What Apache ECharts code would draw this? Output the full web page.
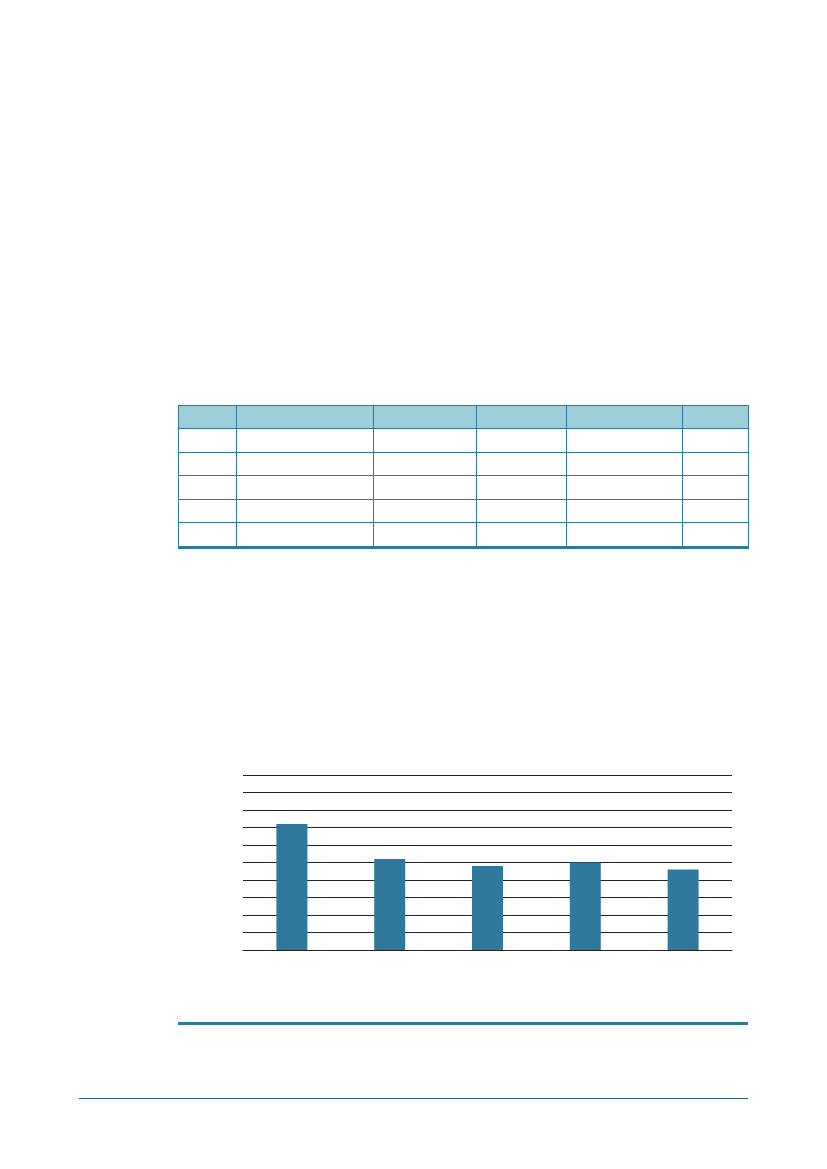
<!DOCTYPE html>
<html>
<head>
    <meta charset="UTF-8">
    <title>Chart</title>
    <script src="https://cdn.jsdelivr.net/npm/echarts@6.0.0/dist/echarts.min.js"></script>
    <style>
        html, body {
            margin: 0;
            padding: 0;
            background: #ffffff;
        }
        .page {
            position: relative;
            width: 827px;
            height: 1169px;
            overflow: hidden;
        }
        #dataTable {
            position: absolute;
            left: 178px;
            top: 405px;
            border-collapse: collapse;
            table-layout: fixed;
            border-bottom: 3px solid #2e7a9e;
        }
        #dataTable td, #dataTable th {
            border: 1.5px solid #2e7a9e;
            padding: 0;
        }
        #dataTable th {
            background-color: #9ecfd8;
            height: 22px;
        }
        #dataTable td {
            height: 22.6px;
        }
        .rule-thick {
            position: absolute;
            left: 178px;
            top: 1022px;
            width: 570px;
            height: 3px;
            background-color: #2e7a9e;
        }
        .rule-thin {
            position: absolute;
            left: 79px;
            top: 1098px;
            width: 669px;
            height: 1px;
            background-color: #2a5f7d;
        }
        #chartContainer {
            position: absolute;
            left: 0;
            top: 0;
            width: 827px;
            height: 1169px;
        }
    </style>
</head>
<body>
    <div class="page">
        <div id="chartContainer"></div>
        <table id="dataTable"></table>
        <div class="rule-thick"></div>
        <div class="rule-thin"></div>
    </div>

    <script>
        // bar chart data (no labels shown in the picture)
        const categories = ['1', '2', '3', '4', '5'];
        const values = [7.2, 5.2, 4.8, 5.0, 4.6];
        const yTicks = [0, 1, 2, 3, 4, 5, 6, 7, 8, 9, 10];

        // table: empty cells, header plus five rows
        const colWidths = [58, 137, 103, 90, 116, 66];
        const rowCount = 5;

        function buildTable() {
            const table = document.getElementById('dataTable');
            let html = '<colgroup>';
            colWidths.forEach(w => { html += `<col style="width:${w}px">`; });
            html += '</colgroup><tr>';
            colWidths.forEach(() => { html += '<th></th>'; });
            html += '</tr>';
            for (let r = 0; r < rowCount; r++) {
                html += '<tr>';
                colWidths.forEach(() => { html += '<td></td>'; });
                html += '</tr>';
            }
            table.innerHTML = html;
        }

        function initChart() {
            const myChart = echarts.init(document.getElementById('chartContainer'));
            const option = {
                animation: false,
                grid: {
                    left: 243,
                    right: 95,
                    top: 775,
                    bottom: 219
                },
                xAxis: {
                    type: 'category',
                    data: categories,
                    axisLine: { show: true, lineStyle: { color: '#222222', width: 1.2 } },
                    axisTick: { show: false },
                    axisLabel: { show: false }
                },
                yAxis: {
                    type: 'value',
                    min: yTicks[0],
                    max: yTicks[yTicks.length - 1],
                    interval: 1,
                    axisLine: { show: false },
                    axisTick: { show: false },
                    axisLabel: { show: false },
                    splitLine: { show: true, lineStyle: { color: '#222222', width: 1.2 } }
                },
                series: [{
                    type: 'bar',
                    data: values,
                    barWidth: 31,
                    itemStyle: { color: '#2f799d' }
                }]
            };
            myChart.setOption(option);
        }

        buildTable();
        initChart();
    </script>
</body>
</html>
